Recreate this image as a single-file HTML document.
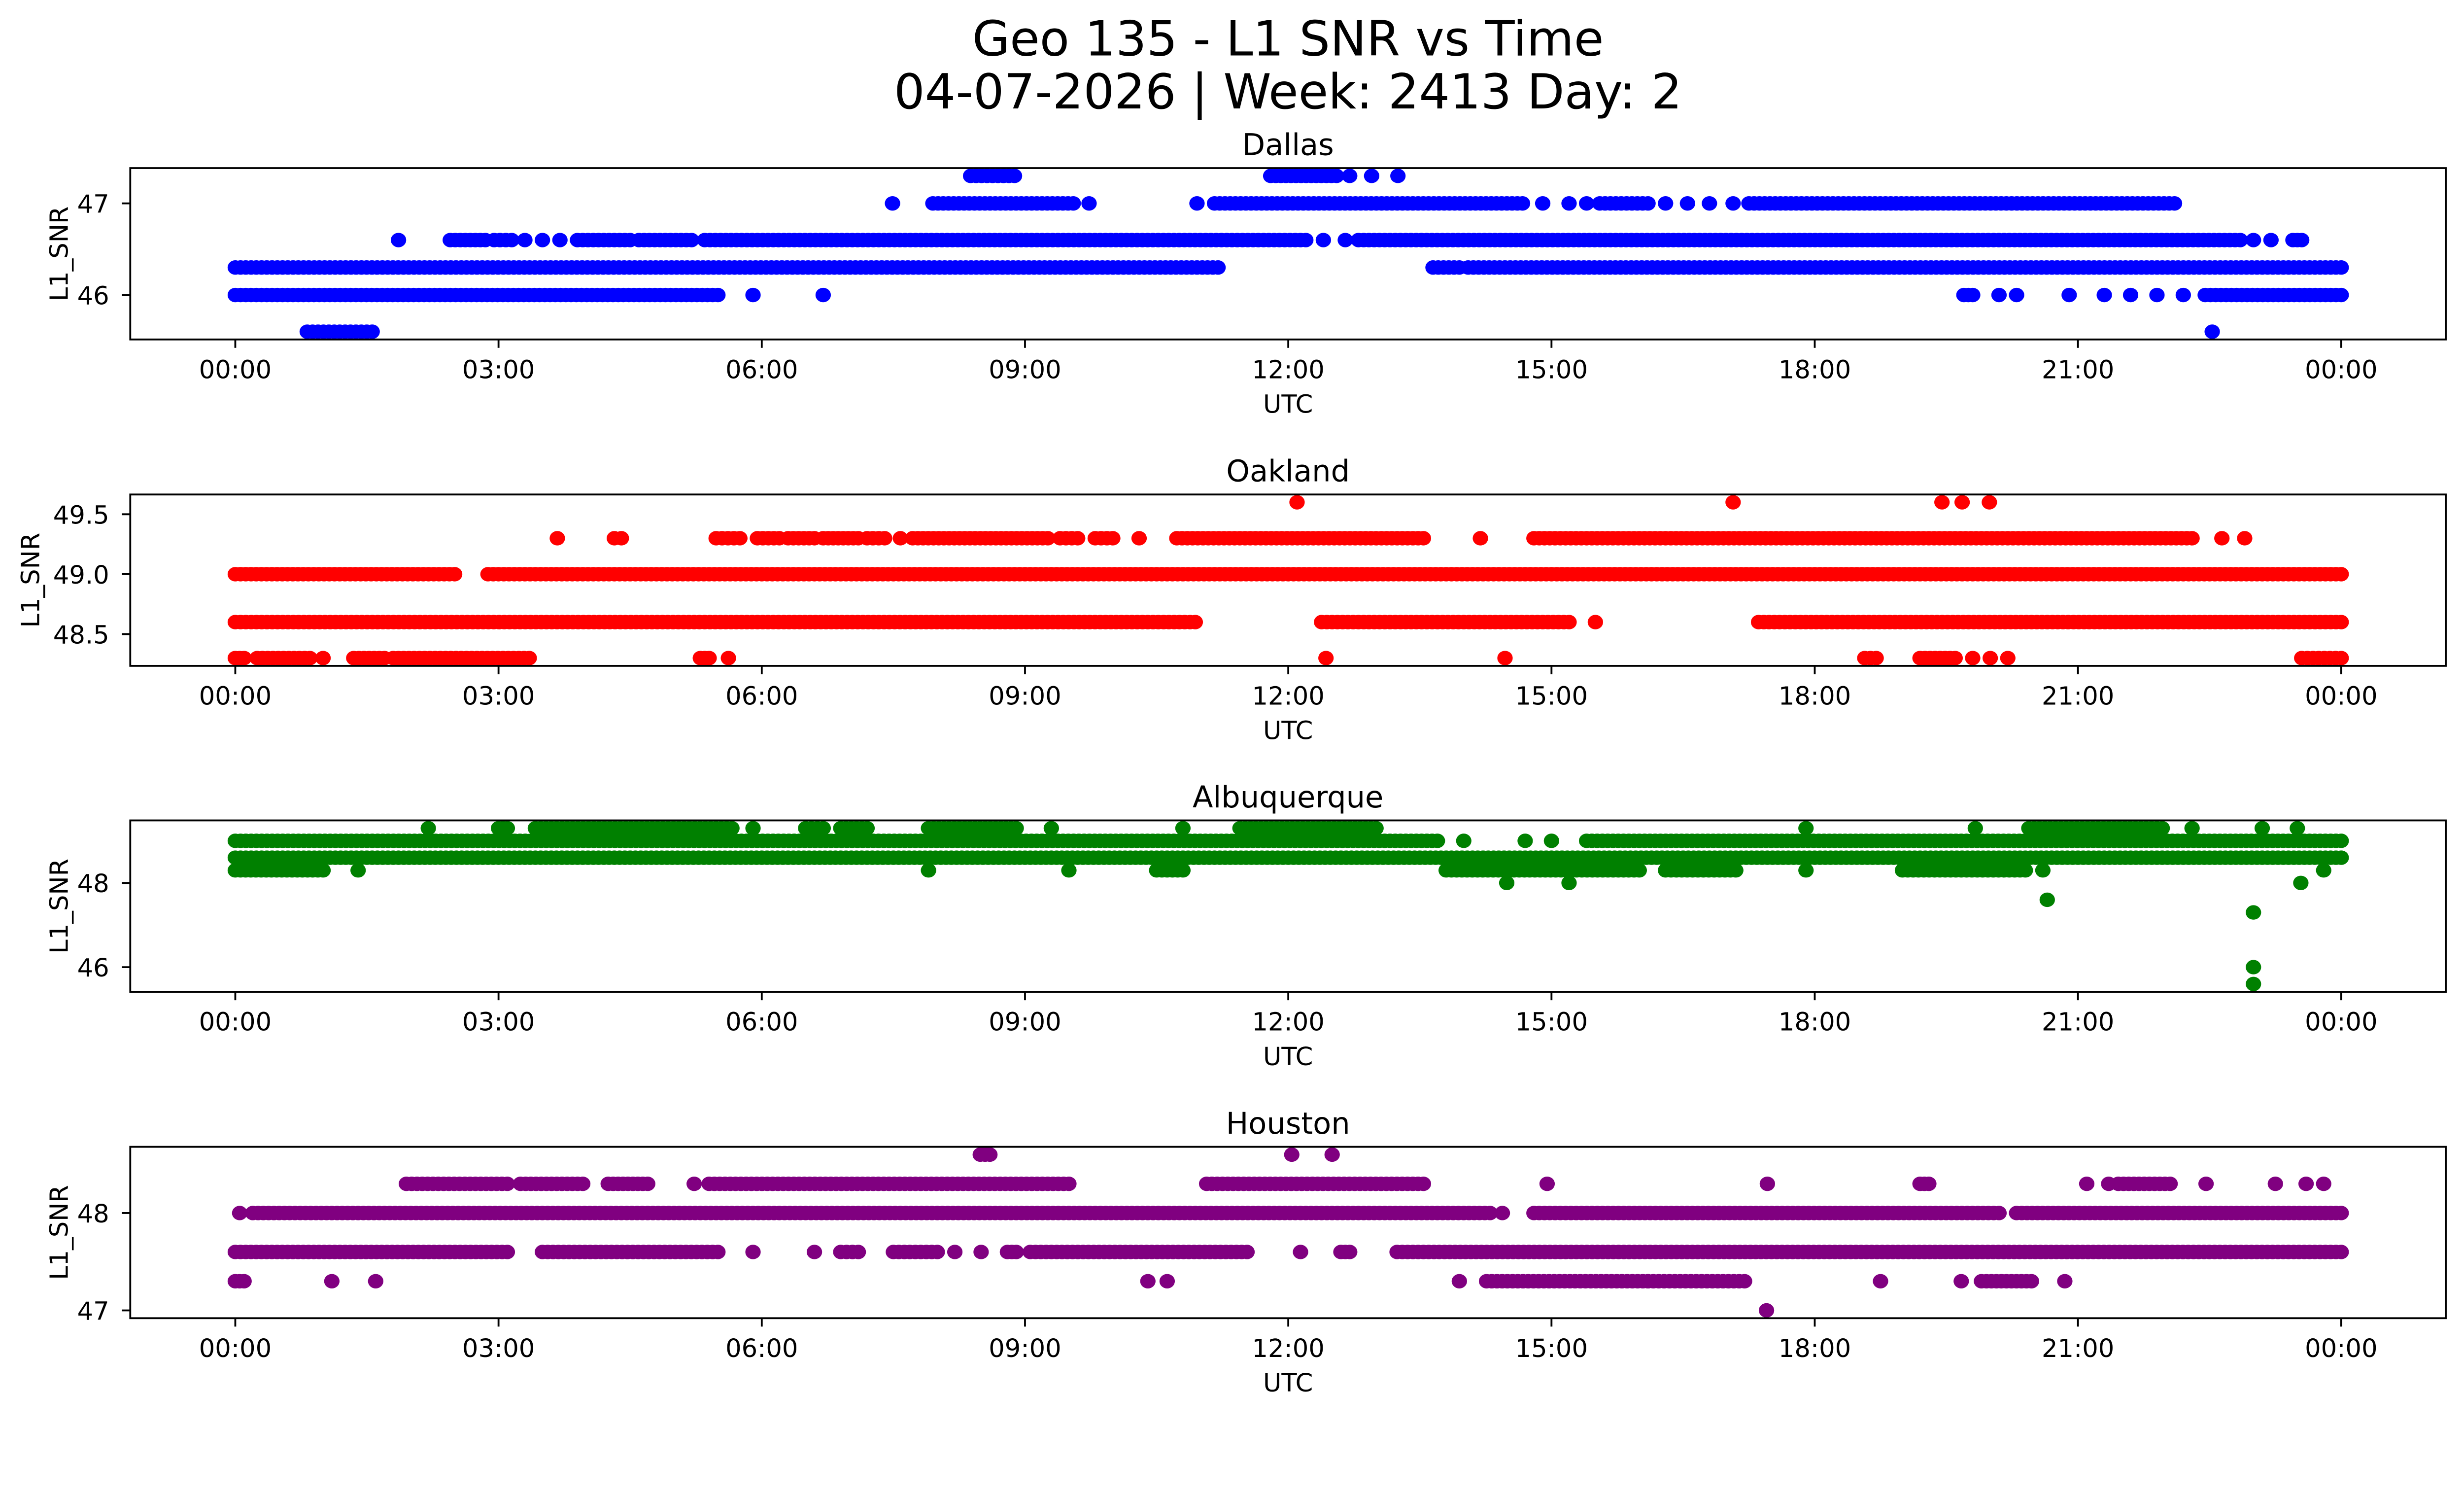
<!DOCTYPE html>
<html><head><meta charset="utf-8"><style>
html,body{margin:0;padding:0;background:#fff;overflow:hidden;}
svg{display:block;width:100vw;height:auto;font-family:"DejaVu Sans","Liberation Sans",sans-serif;}
</style></head><body>
<svg id="chart" xmlns="http://www.w3.org/2000/svg" width="5278" height="3033" viewBox="0 0 5278 3033" preserveAspectRatio="xMinYMin meet">
<rect width="5278" height="3033" fill="#fff"/>
<text x="2759" y="119" font-size="104" text-anchor="middle">Geo 135 - L1 SNR vs Time</text>
<text x="2759" y="232" font-size="104" text-anchor="middle">04-07-2026 | Week: 2413 Day: 2</text>
<g id="panels"></g>
</svg>
<script>
// ---- data (hours UTC, runs of observations per SNR level) ----
const stationNames = ["Dallas", "Oakland", "Albuquerque", "Houston"];
const stationColors = ["#0000ff", "#ff0000", "#008000", "#800080"];
const yTicks = [[46, 47], [48.5, 49.0, 49.5], [46, 48], [47, 48]];
const yTickLabels = [["46", "47"], ["48.5", "49.0", "49.5"], ["46", "48"], ["47", "48"]];
const xTicks = [0, 3, 6, 9, 12, 15, 18, 21, 24];
const xTickLabels = ["00:00", "03:00", "06:00", "09:00", "12:00", "15:00", "18:00", "21:00", "00:00"];

const dallasLevels = [45.6, 46.0, 46.3, 46.6, 47.0, 47.3];
const dallasRuns = [
  [[0.82, 1.56], [22.53, 22.53]],
  [[0, 5.5], [5.9, 5.9], [6.7, 6.7], [19.7, 19.8], [20.1, 20.1], [20.3, 20.3], [20.9, 20.9], [21.3, 21.3], [21.6, 21.6], [21.9, 21.9], [22.2, 22.2], [22.45, 24]],
  [[0, 11.2], [13.65, 13.95], [14.05, 24]],
  [[1.86, 1.86], [2.45, 2.85], [2.95, 3.15], [3.3, 3.3], [3.5, 3.5], [3.7, 3.7], [3.9, 4.5], [4.6, 5.2], [5.35, 12.2], [12.4, 12.4], [12.65, 12.65], [12.8, 22.85], [23.0, 23.0], [23.2, 23.2], [23.45, 23.55]],
  [[7.49, 7.49], [7.95, 9.55], [9.73, 9.73], [10.96, 10.96], [11.16, 14.67], [14.9, 14.9], [15.2, 15.2], [15.4, 15.4], [15.55, 16.1], [16.3, 16.3], [16.55, 16.55], [16.8, 16.8], [17.07, 17.07], [17.25, 22.1]],
  [[8.38, 8.88], [11.8, 12.55], [12.7, 12.7], [12.95, 12.95], [13.25, 13.25]]
];

const oaklandLevels = [48.3, 48.6, 49.0, 49.3, 49.6];
const oaklandRuns = [
  [[0, 0.1], [0.25, 0.85], [1.0, 1.0], [1.35, 1.7], [1.8, 3.35], [5.3, 5.4], [5.62, 5.62], [12.43, 12.43], [14.47, 14.47], [18.57, 18.7], [19.2, 19.6], [19.8, 19.8], [20.0, 20.0], [20.2, 20.2], [23.55, 24]],
  [[0, 10.94], [12.38, 15.2], [15.5, 15.5], [17.36, 24]],
  [[0, 2.5], [2.88, 24]],
  [[3.67, 3.67], [4.32, 4.4], [5.48, 5.75], [5.95, 6.2], [6.3, 6.6], [6.7, 7.1], [7.2, 7.4], [7.58, 7.58], [7.72, 9.26], [9.4, 9.6], [9.8, 10.0], [10.3, 10.3], [10.73, 13.54], [14.19, 14.19], [14.8, 22.3], [22.64, 22.64], [22.9, 22.9]],
  [[12.1, 12.1], [17.07, 17.07], [19.45, 19.45], [19.68, 19.68], [19.99, 19.99]]
];

const albuquerqueLevels = [45.6, 46.0, 47.3, 47.6, 48.0, 48.3, 48.6, 49.0, 49.3];
const albuquerqueRuns = [
  [[23.0, 23.0]],
  [[23.0, 23.0]],
  [[23.0, 23.0]],
  [[20.65, 20.65]],
  [[14.49, 14.49], [15.2, 15.2], [23.54, 23.54]],
  [[0, 1.0], [1.4, 1.4], [7.9, 7.9], [9.5, 9.5], [10.5, 10.8], [13.8, 16.0], [16.3, 17.1], [17.9, 17.9], [19.0, 20.4], [20.6, 20.6], [23.8, 23.8]],
  [[0, 24]],
  [[0, 13.7], [14.0, 14.0], [14.7, 14.7], [15.0, 15.0], [15.4, 24]],
  [[2.2, 2.2], [3.0, 3.1], [3.42, 5.66], [5.9, 5.9], [6.5, 6.7], [6.9, 7.2], [7.9, 8.9], [9.3, 9.3], [10.8, 10.8], [11.45, 13.0], [17.9, 17.9], [19.83, 19.83], [20.44, 21.96], [22.3, 22.3], [23.1, 23.1], [23.5, 23.5]]
];

const houstonLevels = [47.0, 47.3, 47.6, 48.0, 48.3, 48.6];
const houstonRuns = [
  [[17.45, 17.45]],
  [[0, 0.1], [1.1, 1.1], [1.6, 1.6], [10.4, 10.4], [10.62, 10.62], [13.95, 13.95], [14.26, 16.1], [16.1, 17.2], [18.75, 18.75], [19.67, 19.67], [19.9, 20.47], [20.85, 20.85]],
  [[0, 3.1], [3.5, 5.5], [5.9, 5.9], [6.6, 6.6], [6.9, 7.1], [7.5, 8.0], [8.2, 8.2], [8.5, 8.5], [8.8, 8.9], [9.06, 11.53], [12.14, 12.14], [12.6, 12.7], [13.24, 24]],
  [[0.05, 0.05], [0.2, 14.3], [14.44, 14.44], [14.8, 20.1], [20.3, 24]],
  [[1.95, 3.1], [3.25, 3.96], [4.25, 4.7], [5.23, 5.23], [5.4, 9.5], [11.07, 13.54], [14.95, 14.95], [17.46, 17.46], [19.2, 19.3], [21.1, 21.1], [21.35, 21.35], [21.46, 22.05], [22.46, 22.46], [23.25, 23.25], [23.6, 23.6], [23.8, 23.8]],
  [[8.49, 8.6], [12.04, 12.04], [12.5, 12.5]]
];

const allLevels = [dallasLevels, oaklandLevels, albuquerqueLevels, houstonLevels];
const allRuns = [dallasRuns, oaklandRuns, albuquerqueRuns, houstonRuns];

// ---- layout ----
const NS = "http://www.w3.org/2000/svg";
const L = 279, R = 5239, X0 = 504, X24 = 5015;
const panelTops = [360, 1059, 1757, 2456];
const PH = 367;
function mk(tag, attrs, parent) {
  const e = document.createElementNS(NS, tag);
  for (const k in attrs) e.setAttribute(k, attrs[k]);
  parent.appendChild(e);
  return e;
}
function xScale(t) { return X0 + (X24 - X0) * t / 24; }
function yLimits(levels) {
  const mn = Math.min(...levels), mx = Math.max(...levels), m = (mx - mn) * 0.05;
  return [mn - m, mx + m];
}
const root = document.getElementById("panels");
for (let p = 0; p < 4; p++) {
  const top = panelTops[p], bot = top + PH;
  const [y0, y1] = yLimits(allLevels[p]);
  const yScale = v => bot - (v - y0) / (y1 - y0) * PH;
  const g = mk("g", {}, root);
  
  
  const pts = mk("g", { fill: stationColors[p] }, g);
  
  
  const clipId = "clip" + p;
  const cp = mk("clipPath", { id: clipId }, g);
  mk("rect", { x: L, y: top, width: R - L, height: PH }, cp);
  pts.setAttribute("clip-path", "url(#" + clipId + ")");
  allLevels[p].forEach((lvl, li) => {
    const cy = yScale(lvl);
    allRuns[p][li].forEach(run => {
      const n = Math.max(1, Math.round((run[1] - run[0]) / 0.06));
      for (let k = 0; k <= n; k++) {
        const t = run[0] + (run[1] - run[0]) * (n ? k / n : 0);
        const c = mk("ellipse", { cx: xScale(t).toFixed(1), cy: cy.toFixed(1), rx: 16.5, ry: 15.5 }, pts);
        
        
        if (run[0] === run[1]) break;
      }
    });
  });
  const frame = mk("rect", { x: L, y: top, width: R - L, height: PH, fill: "none", stroke: "#000", "stroke-width": 4 }, g);
  
  
  xTicks.forEach((t, i) => {
    const x = xScale(t);
    const tk = mk("line", { x1: x, x2: x, y1: bot, y2: bot + 18, stroke: "#000", "stroke-width": 4 }, g);
    
    
    const tl = mk("text", { x: x, y: bot + 83, "font-size": 54, "text-anchor": "middle" }, g);
    
    
    tl.textContent = xTickLabels[i];
  });
  yTicks[p].forEach((v, i) => {
    const y = yScale(v);
    const tk = mk("line", { x1: L - 18, x2: L, y1: y, y2: y, stroke: "#000", "stroke-width": 4 }, g);
    
    
    const tl = mk("text", { x: L - 45, y: y + 20, "font-size": 54, "text-anchor": "end" }, g);
    
    
    tl.textContent = yTickLabels[p][i];
  });
  const xl = mk("text", { x: (L + R) / 2, y: bot + 157, "font-size": 54, "text-anchor": "middle" }, g);
  
  
  xl.textContent = "UTC";
  const ylx = p === 1 ? 84 : 145;
  const yl = mk("text", { x: ylx, y: top + PH / 2, "font-size": 54, "text-anchor": "middle", transform: "rotate(-90 " + ylx + " " + (top + PH / 2) + ")" }, g);
  
  
  yl.textContent = "L1_SNR";
  const tt = mk("text", { x: (L + R) / 2, y: top - 28, "font-size": 64, "text-anchor": "middle" }, g);
  
  
  tt.textContent = stationNames[p];
}
</script>
</body></html>
